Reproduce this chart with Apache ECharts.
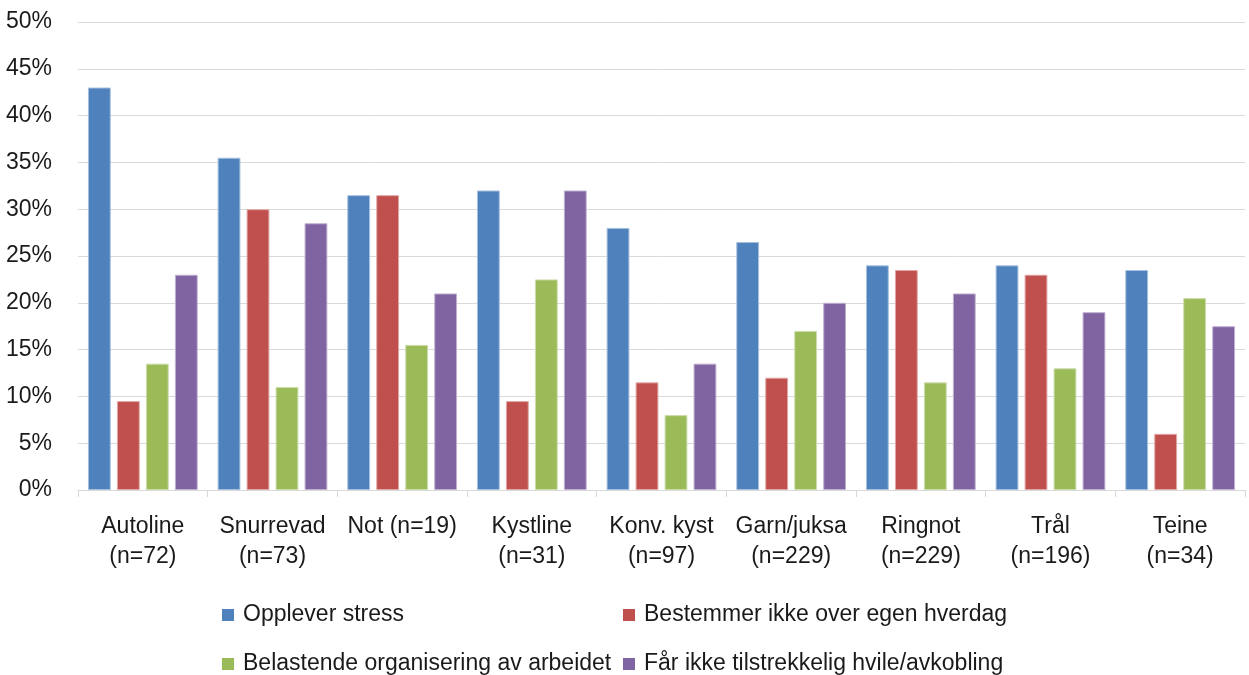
<!DOCTYPE html>
<html><head><meta charset="utf-8">
<script src="https://cdn.jsdelivr.net/npm/echarts@6/dist/echarts.min.js"></script>
<style>html,body{margin:0;padding:0;background:#fff}#c{width:1249px;height:675px}</style>
</head><body><div id="c"></div>
<script>
var categories = ['Autoline\n(n=72)','Snurrevad\n(n=73)','Not (n=19)','Kystline\n(n=31)','Konv. kyst\n(n=97)','Garn/juksa\n(n=229)','Ringnot\n(n=229)','Trål\n(n=196)','Teine\n(n=34)'];
var seriesNames = ['Opplever stress','Bestemmer ikke over egen hverdag','Belastende organisering av arbeidet','Får ikke tilstrekkelig hvile/avkobling'];
var stress = [43, 35.5, 31.5, 32, 28, 26.5, 24, 24, 23.5];
var bestemmer = [9.5, 30, 31.5, 9.5, 11.5, 12, 23.5, 23, 6];
var belastende = [13.5, 11, 15.5, 22.5, 8, 17, 11.5, 13, 20.5];
var hvile = [23, 28.5, 21, 32, 13.5, 20, 21, 19, 17.5];
var colors = ['#4F81BD','#C0504D','#9BBB59','#8064A2'];
var borders = ['#A7C0DE','#E0A8A6','#CDDDAC','#BFB1D0'];

var font = '"Liberation Sans", Arial, sans-serif';
var chart = echarts.init(document.getElementById('c'));
var data = [stress, bestemmer, belastende, hvile];
var legendPos = [[217,598],[618,598],[217,647],[618,647]];
chart.setOption({
  animation: false,
  grid: {left: 78, right: 4, top: 22, bottom: 185},
  legend: seriesNames.map(function(n,i){
    return {data:[{name: n, itemStyle: {borderWidth: 0}}], left: legendPos[i][0], top: legendPos[i][1], itemWidth: 12, itemHeight: 12, itemGap: 8, icon: 'rect',
      textStyle: {fontFamily: font, fontSize: 23, color: '#1a1a1a', lineHeight: 24, padding: [0,0,0,4]}};
  }),
  xAxis: {
    type: 'category', data: categories,
    axisLine: {lineStyle: {color: '#D9D9D9', width: 1}},
    axisTick: {show: true, length: 7, lineStyle: {color: '#D9D9D9'}},
    axisLabel: {fontFamily: font, fontSize: 23, color: '#1a1a1a', lineHeight: 30, margin: 22, interval: 0}
  },
  yAxis: {
    type: 'value', min: 0, max: 50, interval: 5,
    axisLine: {show: false}, axisTick: {show: false},
    splitLine: {lineStyle: {color: '#D9D9D9', width: 1}},
    axisLabel: {formatter: '{value}%', fontFamily: font, fontSize: 23, color: '#1a1a1a', margin: 26}
  },
  series: seriesNames.map(function(n,i){
    return {name: n, type: 'bar', data: data[i], barWidth: '17.6%', barGap: '27%',
      itemStyle: {color: colors[i], borderColor: borders[i], borderWidth: 1}};
  })
});
</script></body></html>
